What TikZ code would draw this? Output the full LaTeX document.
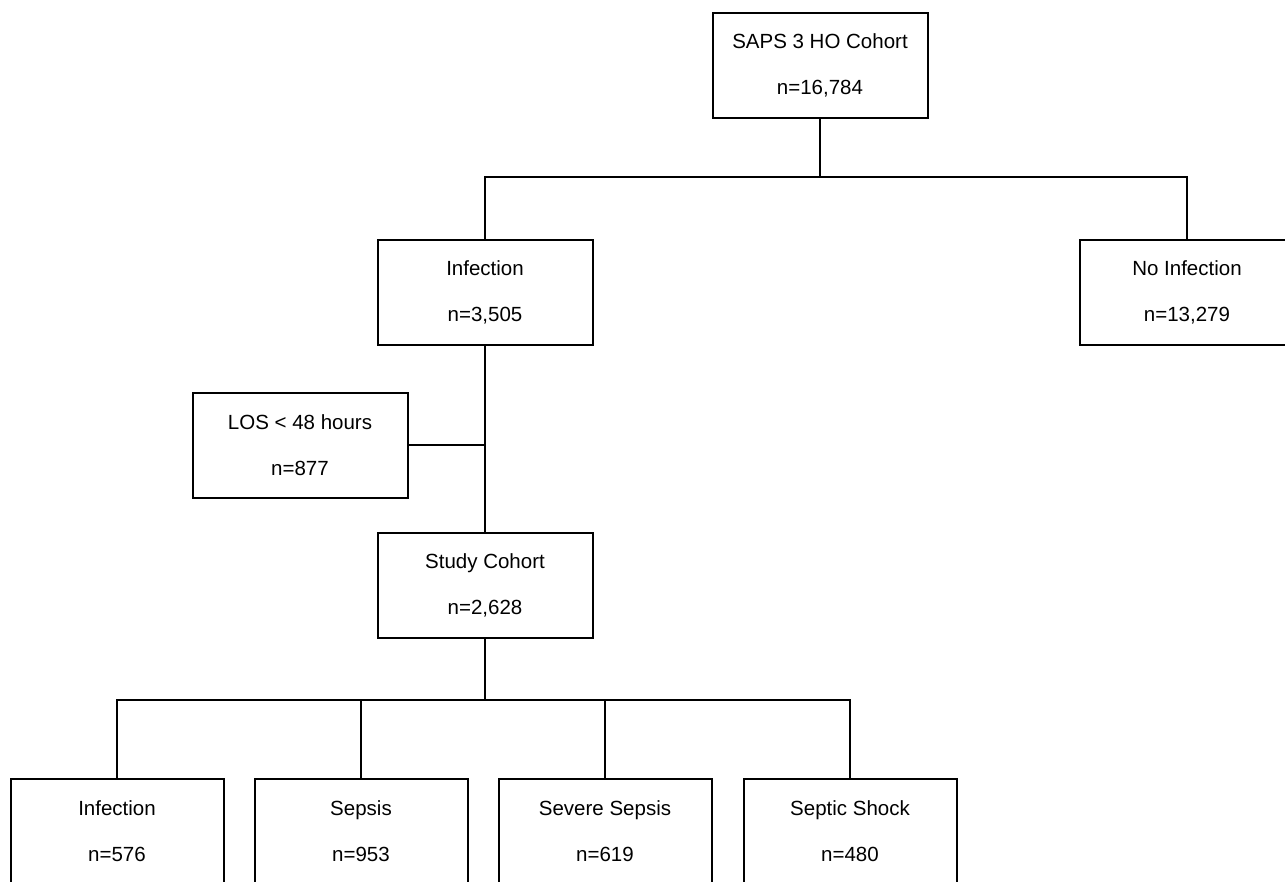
\documentclass[tikz,border=0pt]{standalone}
\usepackage{fontspec}
\setmainfont{Liberation Sans}
\begin{document}
\begin{tikzpicture}[x=1pt,y=-1pt,
  flowbox/.style={draw, line width=2pt, minimum width=215pt, minimum height=105pt,
    align=center, inner sep=0pt, font=\fontsize{20.5}{46}\selectfont},
  link/.style={line width=1.8pt}]
\useasboundingbox (0,0) rectangle (1285,881);
\clip (0,0) rectangle (1285,881);
\node[flowbox] (top) at (820,65) {SAPS 3 HO Cohort\\n=16,784};
\node[flowbox] (inf) at (485,292) {Infection\\n=3,505};
\node[flowbox, minimum width=214pt] (noinf) at (1187,292) {No Infection\\n=13,279};
\node[flowbox] (los) at (300,445) {LOS < 48 hours\\n=877};
\node[flowbox] (study) at (485,585) {Study Cohort\\n=2,628};
\node[flowbox, minimum width=213pt] (b1) at (117,831) {Infection\\n=576};
\node[flowbox, minimum width=213pt] (b2) at (361,831) {Sepsis\\n=953};
\node[flowbox, minimum width=213pt] (b3) at (605,831) {Severe Sepsis\\n=619};
\node[flowbox, minimum width=213pt] (b4) at (850,831) {Septic Shock\\n=480};
\coordinate (j1) at (820,177);
\coordinate (j2) at (485,700);
\coordinate (j3) at (485,445);
\draw[link] (top.south) -- (j1);
\draw[link] (inf.north) |- (j1) -| (noinf.north);
\draw[link] (inf.south) -- (study.north);
\draw[link] (los.east) -- (j3);
\draw[link] (study.south) -- (j2);
\draw[link] (b1.north) |- (j2) -| (b4.north);
\draw[link] (b2.north) -- (b2.north |- j2);
\draw[link] (b3.north) -- (b3.north |- j2);
\end{tikzpicture}
\end{document}
